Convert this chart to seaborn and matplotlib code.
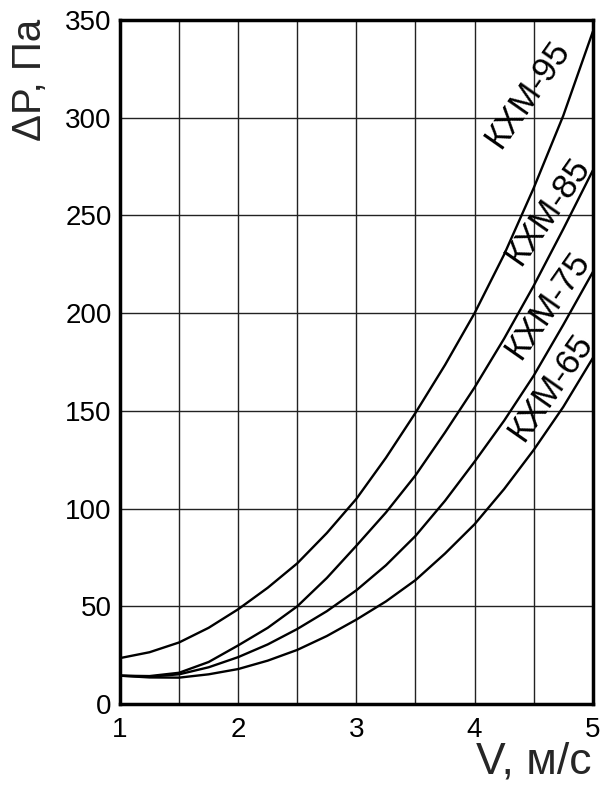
import numpy as np
import pandas as pd
import matplotlib
matplotlib.use('Agg')
import matplotlib.pyplot as plt
import seaborn as sns

sns.set_style("white")
plt.rcParams['font.family'] = ['Liberation Sans', 'DejaVu Sans']

# speed V, m/s (read every 0.25)
v = [1.0, 1.25, 1.5, 1.75, 2.0, 2.25, 2.5, 2.75, 3.0,
     3.25, 3.5, 3.75, 4.0, 4.25, 4.5, 4.75, 5.0]

# pressure drop dP, Pa
p_95 = [23.5, 26.5, 31.5, 39, 48.5, 59.5, 72, 87.5, 105,
        126, 149, 173.5, 200, 230, 264, 301, 344]
p_85 = [14.5, 14.3, 16, 21.5, 30, 39, 50, 64.5, 81,
        98, 117, 139, 162, 187, 214, 243, 273]
p_75 = [14.5, 14, 15.2, 18.8, 24, 30.5, 38.4, 47.5, 58.2,
        71, 86, 104, 124, 145, 168, 194, 221]
p_65 = [14.5, 13.6, 13.5, 15.2, 17.9, 22.2, 27.7, 34.8, 43.2,
        52.5, 63.4, 77, 92, 110, 130, 152, 177]

models = ['КХМ-95', 'КХМ-85', 'КХМ-75', 'КХМ-65']
# where the curve names sit (data coords)
label_pos = [(4.45, 312), (4.62, 252), (4.62, 204), (4.645, 162)]

df = pd.DataFrame({
    'V': v * 4,
    'P': p_95 + p_85 + p_75 + p_65,
    'model': np.repeat(models, len(v)),
})

fig = plt.figure(figsize=(6, 7.89), dpi=100)
ax = fig.add_axes([0.2, 0.1077, 0.788, 0.867])

sns.lineplot(data=df, x='V', y='P', hue='model', palette=['black'] * 4,
             estimator=None, legend=False, linewidth=1.7, ax=ax,
             solid_joinstyle='round', solid_capstyle='round')

for name, (x, y) in zip(models, label_pos):
    ax.text(x, y, name, rotation=55, ha='center', va='center',
            rotation_mode='anchor', fontsize=25, color='black')

ax.set_xlim(1, 5)
ax.set_ylim(0, 350)
ax.set_xticks([1, 2, 3, 4, 5])
ax.set_xticks(np.arange(1.5, 5, 1.0), minor=True)
ax.set_yticks(np.arange(0, 351, 50))
ax.grid(True, which='both', color='#222222', linewidth=1.0)
ax.tick_params(which='both', length=0, labelsize=20, colors='black')
ax.tick_params(axis='x', pad=9)
ax.tick_params(axis='y', pad=6)
for s in ax.spines.values():
    s.set_linewidth(2.5)
    s.set_color('black')
ax.set_xlabel('')
ax.set_ylabel('')

fig.text(0.05, 0.976, 'ΔP, Па', rotation=90, ha='center', va='top', fontsize=29)
fig.text(0.985, 0.008, 'V, м/с', ha='right', va='bottom', fontsize=32)

fig.savefig('out.png', dpi=100)
plt.close()
